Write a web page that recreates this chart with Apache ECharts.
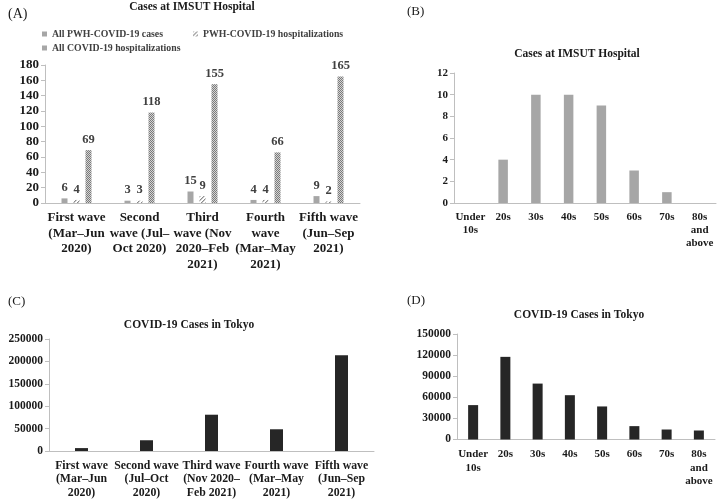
<!DOCTYPE html>
<html>
<head>
<meta charset="utf-8">
<script src="https://cdn.jsdelivr.net/npm/echarts@6/dist/echarts.min.js"></script>
<style>html,body{margin:0;padding:0;background:#fff;}#c{width:719px;height:502px;}</style>
</head>
<body>
<div id="c"></div>
<script>
// ---- Data ----
const waveCatsA = ['First wave\n(Mar–Jun\n2020)', 'Second\nwave (Jul–\nOct 2020)', 'Third\nwave (Nov\n2020–Feb\n2021)', 'Fourth\nwave\n(Mar–May\n2021)', 'Fifth wave\n(Jun–Sep\n2021)'];
const seriesNamesA = ['All PWH-COVID-19 cases', 'PWH-COVID-19 hospitalizations', 'All COVID-19 hospitalizations'];
const pwhCases = [6, 3, 15, 4, 9];
const pwhHosp = [4, 3, 9, 4, 2];
const allHosp = [69, 118, 155, 66, 165];

const ageCats = ['Under\n10s', '20s', '30s', '40s', '50s', '60s', '70s', '80s\nand\nabove'];
const imsutAge = [0, 4, 10, 10, 9, 3, 1, 0];

const waveCatsC = ['First wave\n(Mar–Jun\n2020)', 'Second wave\n(Jul–Oct\n2020)', 'Third wave\n(Nov 2020–\nFeb 2021)', 'Fourth wave\n(Mar–May\n2021)', 'Fifth wave\n(Jun–Sep\n2021)'];
const tokyoWave = [6500, 24000, 81000, 48500, 214000];

const tokyoAge = [48900, 117500, 79500, 63000, 47000, 19000, 14200, 12800];

// ---- Styles ----
const FONT = "'Liberation Serif', 'Times New Roman', serif";
function pattern(type) {
  const c = document.createElement('canvas');
  c.width = 4; c.height = 4;
  const g = c.getContext('2d');
  if (type === 'diag') {
    g.fillStyle = '#ffffff'; g.fillRect(0, 0, 4, 4);
    g.fillStyle = '#8c8c8c';
    for (let i = 0; i < 4; i++) { g.fillRect(i, 3 - i, 1, 1); }
    g.fillStyle = '#c8c8c8';
    for (let i = 0; i < 4; i++) { g.fillRect((i + 1) % 4, 3 - i, 1, 1); }
  } else {
    for (let i = 0; i < 4; i++) for (let j = 0; j < 4; j++) {
      g.fillStyle = ((i + j) % 2 === 0) ? '#7a7a7a' : '#d4d4d4';
      g.fillRect(i, j, 1, 1);
    }
  }
  return { image: c, repeat: 'repeat' };
}
const colS1 = '#a6a6a6';
const colS2 = pattern('diag');
const colS3 = pattern('check');
const dark = '#262626';

function xAxis(gridIndex, data, fontSize, lineHeight, margin) {
  return {
    type: 'category', gridIndex, data,
    axisLine: { lineStyle: { color: '#bfbfbf', width: 1 } },
    axisTick: { show: false },
    axisLabel: { interval: 0, fontFamily: FONT, fontWeight: 'bold', fontSize, lineHeight, color: '#1a1a1a', margin }
  };
}
function yAxis(gridIndex, max, interval, fontSize) {
  return {
    type: 'value', gridIndex, min: 0, max, interval,
    splitLine: { show: false },
    axisLine: { show: true, lineStyle: { color: '#bfbfbf', width: 1 } },
    axisTick: { show: true, length: 4, lineStyle: { color: '#bfbfbf' } },
    axisLabel: { fontFamily: FONT, fontWeight: 'bold', fontSize, color: '#1a1a1a', margin: 6, formatter: (v) => String(v) }
  };
}
const labelA = { show: true, position: 'top', distance: 4, fontFamily: FONT, fontWeight: 'bold', fontSize: 12.5, color: '#404040' };
const titleStyle = { fontFamily: FONT, fontWeight: 'bold', fontSize: 11.5, color: '#1a1a1a' };
const legendText = { fontFamily: FONT, fontWeight: 'bold', fontSize: 9.8, color: '#404040' };

const chart = echarts.init(document.getElementById('c'), null, { renderer: 'canvas' });
chart.setOption({
  backgroundColor: '#ffffff',
  animation: false,
  title: [
    { text: 'Cases at IMSUT Hospital', left: 192, top: 1, textAlign: 'center', textStyle: titleStyle, padding: 0 },
    { text: 'Cases at IMSUT Hospital', left: 577, top: 48, textAlign: 'center', textStyle: titleStyle, padding: 0 },
    { text: 'COVID-19 Cases in Tokyo', left: 189, top: 319, textAlign: 'center', textStyle: titleStyle, padding: 0 },
    { text: 'COVID-19 Cases in Tokyo', left: 579, top: 309, textAlign: 'center', textStyle: titleStyle, padding: 0 }
  ],
  legend: [
    { data: [seriesNamesA[0]], left: 42, top: 29, padding: 0, itemWidth: 5, itemHeight: 5, icon: 'rect', textStyle: legendText },
    { data: [seriesNamesA[1]], left: 193, top: 29, padding: 0, itemWidth: 5, itemHeight: 5, icon: 'rect', textStyle: legendText },
    { data: [seriesNamesA[2]], left: 42, top: 43, padding: 0, itemWidth: 5, itemHeight: 5, icon: 'rect', textStyle: legendText }
  ],
  graphic: [
    { type: 'text', left: 8, top: 7, style: { text: '(A)', font: '14px ' + FONT, fill: '#1a1a1a' } },
    { type: 'text', left: 407, top: 5, style: { text: '(B)', font: '13px ' + FONT, fill: '#1a1a1a' } },
    { type: 'text', left: 8, top: 295, style: { text: '(C)', font: '13px ' + FONT, fill: '#1a1a1a' } },
    { type: 'text', left: 407, top: 294, style: { text: '(D)', font: '13px ' + FONT, fill: '#1a1a1a' } }
  ],
  grid: [
    { left: 45, width: 315, top: 65, height: 138 },
    { left: 454, width: 262, top: 73, height: 130 },
    { left: 49, width: 325, top: 339, height: 112 },
    { left: 457, width: 258, top: 334, height: 105.5 }
  ],
  xAxis: [
    xAxis(0, waveCatsA, 13, 15.5, 7),
    xAxis(1, ageCats, 11, 13, 8),
    xAxis(2, waveCatsC, 11.8, 13.5, 8),
    xAxis(3, ageCats, 11, 13.5, 8)
  ],
  yAxis: [
    yAxis(0, 180, 20, 13),
    yAxis(1, 12, 2, 11),
    yAxis(2, 250000, 50000, 11.5),
    yAxis(3, 150000, 30000, 11.5)
  ],
  series: [
    { name: seriesNamesA[0], type: 'bar', xAxisIndex: 0, yAxisIndex: 0, data: pwhCases, barWidth: 6, barGap: '100%', itemStyle: { color: colS1 }, label: labelA },
    { name: seriesNamesA[1], type: 'bar', xAxisIndex: 0, yAxisIndex: 0, data: pwhHosp, barWidth: 6, barGap: '100%', itemStyle: { color: colS2 }, label: labelA },
    { name: seriesNamesA[2], type: 'bar', xAxisIndex: 0, yAxisIndex: 0, data: allHosp, barWidth: 6, barGap: '100%', itemStyle: { color: colS3 }, label: labelA },
    { name: 'IMSUT by age', type: 'bar', xAxisIndex: 1, yAxisIndex: 1, data: imsutAge, barWidth: 9.5, itemStyle: { color: colS1 } },
    { name: 'Tokyo by wave', type: 'bar', xAxisIndex: 2, yAxisIndex: 2, data: tokyoWave, barWidth: 13, itemStyle: { color: dark } },
    { name: 'Tokyo by age', type: 'bar', xAxisIndex: 3, yAxisIndex: 3, data: tokyoAge, barWidth: 10, itemStyle: { color: dark } }
  ]
});
</script>
</body>
</html>
